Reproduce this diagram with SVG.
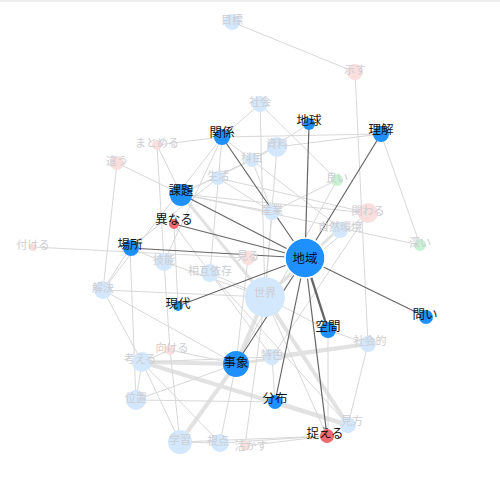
<svg xmlns="http://www.w3.org/2000/svg" width="500" height="484" viewBox="0 0 500 484">
<style>
text{font-family:"Noto Sans CJK JP","Noto Sans",sans-serif;text-anchor:middle;dominant-baseline:central}
.lbl{font-size:12.5px;fill:#111}
.fl{font-size:11px;fill:#cdcdd2}
.m{fill:#1e90ff}
.r{fill:#ee6a6e}
.fb{fill:#d3e8fc}
.fp{fill:#fadfdf}
.fg{fill:#c8f2d4}
.e{stroke:#d8d8d8;stroke-width:1;fill:none}
.t{stroke:#e2e2e2;stroke-width:4;fill:none}
.d{stroke:#666;stroke-width:1.2;fill:none}
</style>
<rect width="500" height="484" fill="#fff"/>
<line x1="0" y1="1" x2="500" y2="1" stroke="#ddd" stroke-width="1"/>
<g id="connectors">
<g class="t">
<line x1="236" y1="364" x2="265" y2="297"/>
<line x1="142" y1="362" x2="236" y2="364"/>
<line x1="236" y1="364" x2="180" y2="442"/>
<line x1="275" y1="402" x2="348" y2="425"/>
<line x1="265" y1="297" x2="348" y2="425"/>
<line x1="272" y1="357" x2="368" y2="344"/>
<line x1="142" y1="362" x2="348" y2="425"/>
<line x1="265" y1="297" x2="181" y2="194" stroke-width="3"/>
<line x1="265" y1="297" x2="340" y2="228" stroke-width="3"/>
<line x1="236" y1="364" x2="368" y2="344" stroke-width="3"/>
</g>
<g class="e">
<line x1="232" y1="22" x2="355" y2="72"/>
<line x1="355" y1="72" x2="368" y2="344"/>
<line x1="381" y1="134" x2="420" y2="245"/>
<line x1="222" y1="137" x2="381" y2="134"/>
<line x1="157" y1="145" x2="222" y2="137"/>
<line x1="157" y1="145" x2="181" y2="194"/>
<line x1="157" y1="145" x2="164" y2="262"/>
<line x1="117" y1="163" x2="181" y2="194"/>
<line x1="117" y1="163" x2="103" y2="290"/>
<line x1="33" y1="247" x2="248" y2="258"/>
<line x1="260" y1="104" x2="222" y2="137"/>
<line x1="260" y1="104" x2="337" y2="180"/>
<line x1="260" y1="104" x2="265" y2="297"/>
<line x1="309" y1="124" x2="252" y2="160"/>
<line x1="277" y1="147" x2="181" y2="194"/>
<line x1="277" y1="147" x2="265" y2="297"/>
<line x1="277" y1="147" x2="381" y2="134"/>
<line x1="252" y1="160" x2="181" y2="194"/>
<line x1="252" y1="160" x2="272" y2="212"/>
<line x1="218" y1="178" x2="130" y2="248"/>
<line x1="218" y1="178" x2="272" y2="212"/>
<line x1="218" y1="178" x2="368" y2="213"/>
<line x1="222" y1="137" x2="210" y2="273"/>
<line x1="222" y1="137" x2="164" y2="262"/>
<line x1="222" y1="137" x2="340" y2="228"/>
<line x1="181" y1="194" x2="368" y2="213"/>
<line x1="181" y1="194" x2="340" y2="228"/>
<line x1="181" y1="194" x2="272" y2="212"/>
<line x1="174" y1="224" x2="272" y2="357"/>
<line x1="174" y1="224" x2="178" y2="306"/>
<line x1="130" y1="248" x2="103" y2="290"/>
<line x1="130" y1="248" x2="164" y2="262"/>
<line x1="130" y1="248" x2="136" y2="400"/>
<line x1="103" y1="290" x2="265" y2="297"/>
<line x1="103" y1="290" x2="222" y2="137"/>
<line x1="103" y1="290" x2="142" y2="362"/>
<line x1="103" y1="290" x2="236" y2="364"/>
<line x1="164" y1="262" x2="265" y2="297"/>
<line x1="164" y1="262" x2="170" y2="350"/>
<line x1="210" y1="273" x2="265" y2="297"/>
<line x1="210" y1="273" x2="348" y2="425"/>
<line x1="248" y1="258" x2="236" y2="364"/>
<line x1="272" y1="212" x2="265" y2="297"/>
<line x1="272" y1="212" x2="337" y2="180"/>
<line x1="340" y1="228" x2="420" y2="245"/>
<line x1="368" y1="213" x2="265" y2="297"/>
<line x1="368" y1="213" x2="272" y2="357"/>
<line x1="337" y1="180" x2="236" y2="364"/>
<line x1="170" y1="350" x2="142" y2="362"/>
<line x1="170" y1="350" x2="236" y2="364"/>
<line x1="170" y1="350" x2="180" y2="442"/>
<line x1="142" y1="362" x2="136" y2="400"/>
<line x1="142" y1="362" x2="220" y2="443"/>
<line x1="142" y1="362" x2="180" y2="442"/>
<line x1="136" y1="400" x2="275" y2="402"/>
<line x1="136" y1="400" x2="236" y2="364"/>
<line x1="180" y1="442" x2="327" y2="436"/>
<line x1="180" y1="442" x2="220" y2="443"/>
<line x1="220" y1="443" x2="236" y2="364"/>
<line x1="220" y1="443" x2="327" y2="436"/>
<line x1="245" y1="446" x2="327" y2="436"/>
<line x1="245" y1="446" x2="265" y2="297"/>
<line x1="328" y1="330" x2="328" y2="436"/>
<line x1="328" y1="330" x2="368" y2="344"/>
<line x1="328" y1="330" x2="265" y2="297"/>
<line x1="272" y1="357" x2="275" y2="402"/>
<line x1="368" y1="344" x2="348" y2="425"/>
<line x1="265" y1="297" x2="327" y2="436"/>
<line x1="272" y1="357" x2="142" y2="362"/>
</g>
<g class="d">
<line x1="305" y1="258" x2="222" y2="137"/>
<line x1="305" y1="258" x2="309" y2="124"/>
<line x1="305" y1="258" x2="381" y2="134"/>
<line x1="305" y1="258" x2="181" y2="194"/>
<line x1="305" y1="258" x2="174" y2="224"/>
<line x1="305" y1="258" x2="130" y2="248"/>
<line x1="305" y1="258" x2="178" y2="306"/>
<line x1="305" y1="258" x2="328" y2="330" stroke-width="2.4"/>
<line x1="305" y1="258" x2="426" y2="317"/>
<line x1="305" y1="258" x2="236" y2="364"/>
<line x1="305" y1="258" x2="275" y2="402"/>
<line x1="305" y1="258" x2="327" y2="436"/>
</g>
</g>
<g id="n-mokuhyo"><circle class="fb" cx="232" cy="22" r="8"/><text class="fl" x="232" y="19">目標</text></g>
<g id="n-shimesu"><circle class="fp" cx="355" cy="72" r="8"/><text class="fl" x="355" y="69">示す</text></g>
<g id="n-shakai"><circle class="fb" cx="260" cy="104" r="8"/><text class="fl" x="260" y="101">社会</text></g>
<g id="n-matomeru"><circle class="fp" cx="157" cy="145" r="5"/><text class="fl" x="157" y="142">まとめる</text></g>
<g id="n-chigau"><circle class="fp" cx="117" cy="163" r="7"/><text class="fl" x="117" y="160">違う</text></g>
<g id="n-shiryo"><circle class="fb" cx="277" cy="147" r="10"/><text class="fl" x="277" y="143">資料</text></g>
<g id="n-kamoku"><circle class="fb" cx="252" cy="160" r="7"/><text class="fl" x="252" y="157">科目</text></g>
<g id="n-seikatsu"><circle class="fb" cx="218" cy="178" r="7"/><text class="fl" x="218" y="175">生活</text></g>
<g id="n-yoi"><circle class="fg" cx="337" cy="180" r="6"/><text class="fl" x="337" y="177">良い</text></g>
<g id="n-sangyo"><circle class="fb" cx="272" cy="212" r="8"/><text class="fl" x="272" y="209">産業</text></g>
<g id="n-kakawaru"><circle class="fp" cx="368" cy="213" r="10"/><text class="fl" x="368" y="210">関わる</text></g>
<g id="n-shizen"><circle class="fb" cx="340" cy="230" r="8"/><text class="fl" x="340" y="226">自然環境</text></g>
<g id="n-fukai"><circle class="fg" cx="420" cy="245" r="6"/><text class="fl" x="420" y="242">深い</text></g>
<g id="n-tsukeru"><circle class="fp" cx="33" cy="247" r="4"/><text class="fl" x="33" y="244">付ける</text></g>
<g id="n-gino"><circle class="fb" cx="164" cy="262" r="9"/><text class="fl" x="164" y="259">技能</text></g>
<g id="n-sogo"><circle class="fb" cx="210" cy="273" r="9"/><text class="fl" x="210" y="270">相互依存</text></g>
<g id="n-miru"><circle class="fp" cx="248" cy="258" r="7"/><text class="fl" x="248" y="255">見る</text></g>
<g id="n-kaiketsu"><circle class="fb" cx="103" cy="290" r="9"/><text class="fl" x="103" y="287">解決</text></g>
<g id="n-sekai"><circle class="fb" cx="265" cy="297" r="20"/><text class="fl" x="265" y="292">世界</text></g>
<g id="n-mukeru"><circle class="fp" cx="170" cy="350" r="5"/><text class="fl" x="172" y="347">向ける</text></g>
<g id="n-kangaeru"><circle class="fb" cx="142" cy="362" r="10"/><text class="fl" x="140" y="358">考える</text></g>
<g id="n-ichi"><circle class="fb" cx="136" cy="400" r="10"/><text class="fl" x="136" y="397">位置</text></g>
<g id="n-gakushu"><circle class="fb" cx="180" cy="442" r="12"/><text class="fl" x="180" y="439">学習</text></g>
<g id="n-shiten"><circle class="fb" cx="220" cy="443" r="9"/><text class="fl" x="218" y="440">視点</text></g>
<g id="n-ikasu"><circle class="fp" cx="245" cy="446" r="5"/><text class="fl" x="251" y="445">活かす</text></g>
<g id="n-tokushoku"><circle class="fb" cx="272" cy="357" r="8"/><text class="fl" x="272" y="354">特色</text></g>
<g id="n-shakaiteki"><circle class="fb" cx="368" cy="344" r="8"/><text class="fl" x="370" y="340">社会的</text></g>
<g id="n-mikata"><circle class="fb" cx="348" cy="425" r="8"/><text class="fl" x="352" y="420">見方</text></g>
<g id="n-chiiki"><circle class="m" cx="305" cy="258" r="20" stroke="#fff" stroke-width="1.5"/><text class="lbl" x="305" y="257">地域</text></g>
<g id="n-kankei"><circle class="m" cx="222" cy="137" r="8"/><text class="lbl" x="222" y="131">関係</text></g>
<g id="n-chikyu"><circle class="m" cx="309" cy="124" r="6"/><text class="lbl" x="309" y="119">地球</text></g>
<g id="n-rikai"><circle class="m" cx="381" cy="134" r="8"/><text class="lbl" x="381" y="128">理解</text></g>
<g id="n-kadai"><circle class="m" cx="181" cy="195" r="11"/><text class="lbl" x="181" y="189">課題</text></g>
<g id="n-kotonaru"><circle class="r" cx="174" cy="224" r="5"/><text class="lbl" x="174" y="218">異なる</text></g>
<g id="n-basho"><circle class="m" cx="131" cy="248" r="8"/><text class="lbl" x="130" y="243">場所</text></g>
<g id="n-gendai"><circle class="m" cx="178" cy="306" r="5"/><text class="lbl" x="178" y="302">現代</text></g>
<g id="n-kukan"><circle class="m" cx="328" cy="330" r="8"/><text class="lbl" x="328" y="325">空間</text></g>
<g id="n-toi"><circle class="m" cx="426" cy="317" r="7"/><text class="lbl" x="425" y="313">問い</text></g>
<g id="n-jisho"><circle class="m" cx="236" cy="364" r="13"/><text class="lbl" x="236" y="361">事象</text></g>
<g id="n-bunpu"><circle class="m" cx="275" cy="402" r="7"/><text class="lbl" x="275" y="397">分布</text></g>
<g id="n-toraeru"><circle class="r" cx="327" cy="436" r="7"/><text class="lbl" x="325" y="432">捉える</text></g>
</svg>
